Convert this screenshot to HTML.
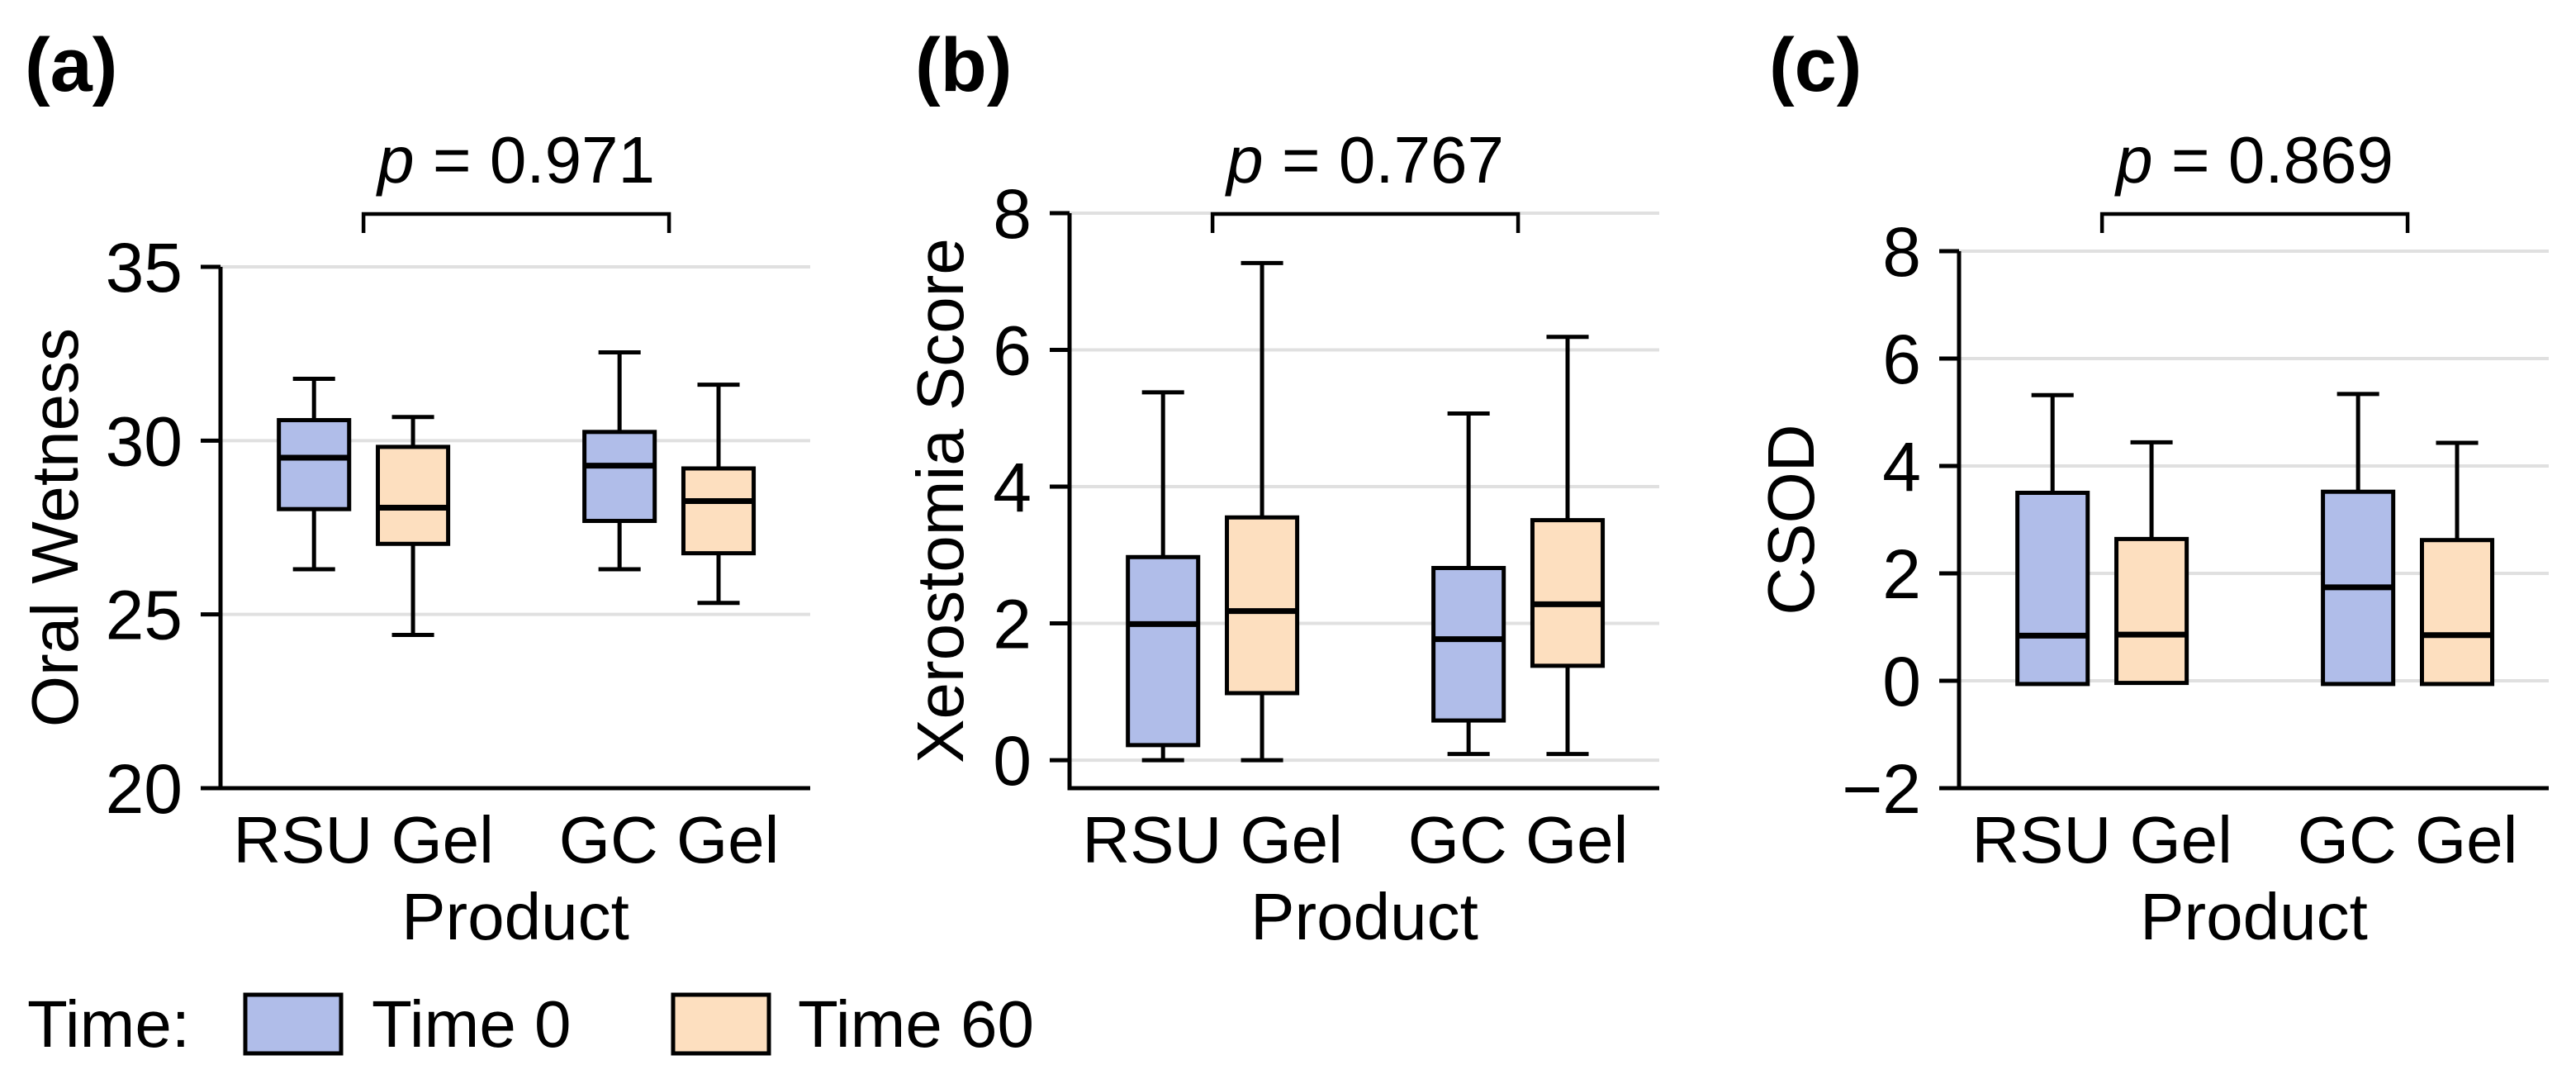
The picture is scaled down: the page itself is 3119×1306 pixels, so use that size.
<!DOCTYPE html>
<html><head><meta charset="utf-8"><style>
html,body{margin:0;padding:0;background:#fff;}
svg{display:block;font-family:"Liberation Sans",Arial,sans-serif;}
</style></head><body>
<svg id="fig" width="3119" height="1306" viewBox="0 0 3119 1306" xmlns="http://www.w3.org/2000/svg">
<g id="legend">
  <text x="33" y="1267" font-size="80">Time:</text>
  <rect x="297" y="1204" width="116" height="71" fill="#b0bde9" stroke="#000" stroke-width="5"/>
  <text x="450" y="1267" font-size="80">Time 0</text>
  <rect x="815" y="1204" width="116" height="71" fill="#fddfbf" stroke="#000" stroke-width="5"/>
  <text x="966" y="1267" font-size="80">Time 60</text>
</g>
</svg>
<script>
const categories = ["RSU Gel", "GC Gel"];
const seriesNames = ["Time 0", "Time 60"];
// [low whisker, Q1, median, Q3, high whisker] per category
const wetnessT0 = [[26.3, 28.03, 29.51, 30.59, 31.78], [26.3, 27.69, 29.28, 30.25, 32.54]];
const wetnessT60 = [[24.41, 27.03, 28.07, 29.82, 30.68], [25.33, 26.76, 28.26, 29.2, 31.61]];
const xeroT0 = [[0, 0.22, 1.99, 2.97, 5.38], [0.09, 0.58, 1.77, 2.81, 5.07]];
const xeroT60 = [[0, 0.98, 2.18, 3.55, 7.27], [0.09, 1.38, 2.28, 3.51, 6.19]];
const csodT0 = [[-0.06, -0.06, 0.84, 3.5, 5.32], [-0.06, -0.06, 1.74, 3.52, 5.34]];
const csodT60 = [[-0.04, -0.04, 0.86, 2.64, 4.44], [-0.06, -0.06, 0.85, 2.62, 4.43]];
const ticksA = [20, 25, 30, 35];
const ticksB = [0, 2, 4, 6, 8];
const ticksC = [-2, 0, 2, 4, 6, 8];
const tickLabelsA = ["20", "25", "30", "35"];
const tickLabelsB = ["0", "2", "4", "6", "8"];
const tickLabelsC = ["\u22122", "0", "2", "4", "6", "8"];
const pValues = ["0.971", "0.767", "0.869"];

const NS = "http://www.w3.org/2000/svg";
const svg = document.getElementById("fig");
function mk(tag, attrs, parent) {
  const e = document.createElementNS(NS, tag);
  for (const k in attrs) e.setAttribute(k, attrs[k]);
  parent.appendChild(e);
  return e;
}
const colors = ["#b0bde9", "#fddfbf"];

function panel(cfg) {
  const g = mk("g", {}, svg);
  
  
  const L = cfg.left, R = cfg.left + 714, T = cfg.top, B = 954;
  const y = v => B - (v - cfg.ymin) / (cfg.ymax - cfg.ymin) * (B - T);
  const xr = [-0.468, 1.462];
  const x = v => L + (v - xr[0]) / (xr[1] - xr[0]) * (R - L);
  cfg.ticks.forEach((t, i) => {
    if (t === cfg.ymin) return;
    const gl = mk("line", {x1: L, x2: R, y1: y(t), y2: y(t), stroke: "#e0e0e0", "stroke-width": 4}, g);
    
    
  });
  cfg.ticks.forEach((t, i) => {
    const tk = mk("line", {x1: L - 24, x2: L, y1: y(t), y2: y(t), stroke: "#000", "stroke-width": 5}, g);
    
    
    const tl = mk("text", {x: L - 46, y: y(t) + 30, "font-size": 84, "text-anchor": "end"}, g);
    
    
    tl.textContent = cfg.tickLabels[i];
  });
  const sp = mk("path", {d: `M${L},${T} L${L},${B} L${R},${B}`, fill: "none", stroke: "#000", "stroke-width": 5}, g);
  
  
  const series = [cfg.s0, cfg.s1];
  const halfW = 0.115 * (R - L) / (xr[1] - xr[0]);
  const capW = halfW * 0.6;
  series.forEach((s, si) => {
    s.forEach((d, ci) => {
      const cx = x(ci + (si === 0 ? -0.162 : 0.162));
      const bg = mk("g", {}, g);
      
      
      const ln = {stroke: "#000", "stroke-width": 5};
      if (d[4] > d[3]) {
        mk("line", Object.assign({x1: cx, x2: cx, y1: y(d[3]), y2: y(d[4])}, ln), bg);
        mk("line", Object.assign({x1: cx - capW, x2: cx + capW, y1: y(d[4]), y2: y(d[4])}, ln), bg);
      }
      if (d[0] < d[1]) {
        mk("line", Object.assign({x1: cx, x2: cx, y1: y(d[1]), y2: y(d[0])}, ln), bg);
        mk("line", Object.assign({x1: cx - capW, x2: cx + capW, y1: y(d[0]), y2: y(d[0])}, ln), bg);
      }
      mk("rect", {x: cx - halfW, y: y(d[3]), width: 2 * halfW, height: y(d[1]) - y(d[3]), fill: colors[si], stroke: "#000", "stroke-width": 5}, bg);
      mk("line", {x1: cx - halfW, x2: cx + halfW, y1: y(d[2]), y2: y(d[2]), stroke: "#000", "stroke-width": 7}, bg);
    });
  });
  categories.forEach((c, ci) => {
    const t = mk("text", {x: x(ci), y: 1044, "font-size": 80, "text-anchor": "middle"}, g);
    
    
    t.textContent = c;
  });
  const xt = mk("text", {x: (L + R) / 2, y: 1137, "font-size": 80, "text-anchor": "middle"}, g);
  
  
  xt.textContent = "Product";
  const yc = (T + B) / 2;
  const yt = mk("text", {x: 0, y: 0, "font-size": 80, "text-anchor": "middle", transform: `translate(${cfg.ytx},${yc}) rotate(-90)`}, g);
  
  
  yt.textContent = cfg.ytitle;
  const bx1 = x(0), bx2 = x(1);
  const br = mk("path", {d: `M${bx1},282 L${bx1},259 L${bx2},259 L${bx2},282`, fill: "none", stroke: "#000", "stroke-width": 4.5}, g);
  
  
  const pt = mk("text", {x: (bx1 + bx2) / 2, y: 221, "font-size": 80, "text-anchor": "middle"}, g);
  
  
  const ip = mk("tspan", {"font-style": "italic"}, pt);
  ip.textContent = "p";
  const rest = mk("tspan", {}, pt);
  rest.textContent = " = " + cfg.p;
  const pl = mk("text", {x: cfg.labelX, y: 110, "font-size": 92, "font-weight": "bold"}, g);
  
  
  pl.textContent = "(" + cfg.id + ")";
}

panel({id: "a", left: 267, top: 323, ymin: 20, ymax: 35, ticks: ticksA, tickLabels: tickLabelsA, s0: wetnessT0, s1: wetnessT60, ytitle: "Oral Wetness", ytx: 94, p: pValues[0], labelX: 30});
panel({id: "b", left: 1295, top: 258, ymin: -0.41, ymax: 8, ticks: ticksB, tickLabels: tickLabelsB, s0: xeroT0, s1: xeroT60, ytitle: "Xerostomia Score", ytx: 1166, p: pValues[1], labelX: 1108});
panel({id: "c", left: 2372, top: 304, ymin: -2, ymax: 8, ticks: ticksC, tickLabels: tickLabelsC, s0: csodT0, s1: csodT60, ytitle: "CSOD", ytx: 2196, p: pValues[2], labelX: 2142});
</script>
</body></html>
